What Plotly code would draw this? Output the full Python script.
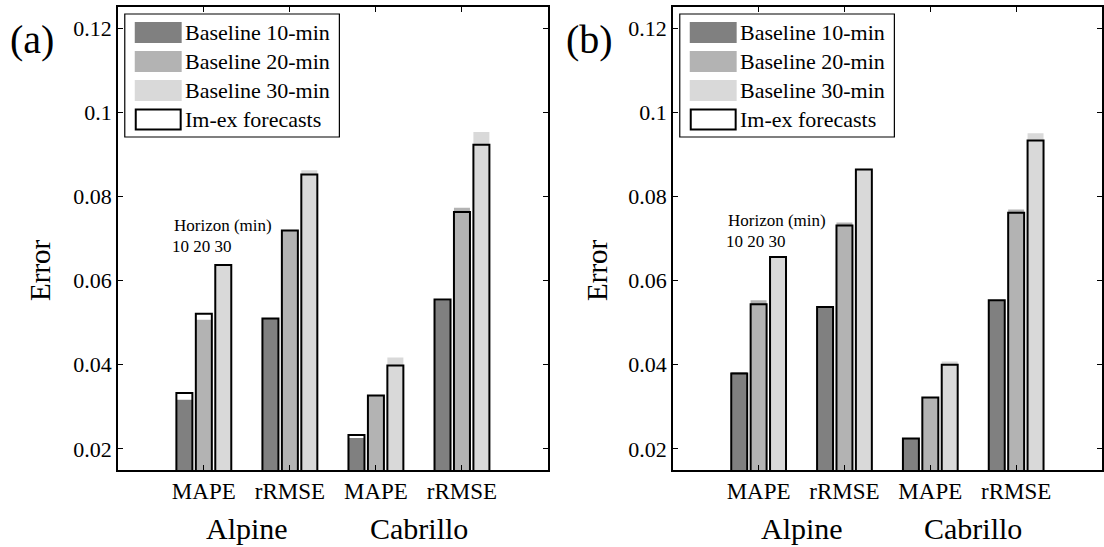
import plotly.graph_objects as go

# ---------------- data ----------------
categories = ["MAPE", "rRMSE", "MAPE", "rRMSE"]
sites = ["Alpine", "Cabrillo"]
horizons = ["10", "20", "30"]
legend_labels = ["Baseline 10-min", "Baseline 20-min", "Baseline 30-min", "Im-ex forecasts"]
y_ticks = [0.02, 0.04, 0.06, 0.08, 0.1, 0.12]
y_tick_text = ["0.02", "0.04", "0.06", "0.08", "0.1", "0.12"]

# panel (a)
baseline_a_10 = [0.0317, 0.0509, 0.0226, 0.0553]
baseline_a_20 = [0.0507, 0.0719, 0.0327, 0.0773]
baseline_a_30 = [0.0635, 0.0862, 0.0417, 0.0953]
imex_a_10 = [0.0333, 0.0510, 0.0233, 0.0555]
imex_a_20 = [0.0521, 0.0719, 0.0327, 0.0763]
imex_a_30 = [0.0637, 0.0852, 0.0398, 0.0923]

# panel (b)
baseline_b_10 = [0.0382, 0.0538, 0.0226, 0.0554]
baseline_b_20 = [0.0553, 0.0738, 0.0323, 0.0769]
baseline_b_30 = [0.0657, 0.0866, 0.0408, 0.0950]
imex_b_10 = [0.0379, 0.0537, 0.0225, 0.0553]
imex_b_20 = [0.0544, 0.0731, 0.0322, 0.0761]
imex_b_30 = [0.0656, 0.0864, 0.0400, 0.0933]

group_pos = [1, 2, 3, 4]
site_pos = [1.5, 3.5]

# ---------------- style ----------------
FONT = "Liberation Serif, Times New Roman, serif"
colors = ["#808080", "#b3b3b3", "#d9d9d9"]
BW = 0.186
PITCH = 0.226
offsets = [-PITCH - BW / 2, -BW / 2, PITCH - BW / 2]

W, H = 1104, 547
panels = [
    dict(xa="x", ya="y", x0=118, w=431, label="(a)", lx=8, ex=40,
         base=[baseline_a_10, baseline_a_20, baseline_a_30],
         imex=[imex_a_10, imex_a_20, imex_a_30], hz=(0.626, 0.0731, 0.0681)),
    dict(xa="x2", ya="y2", x0=674, w=430, label="(b)", lx=565, ex=598,
         base=[baseline_b_10, baseline_b_20, baseline_b_30],
         imex=[imex_b_10, imex_b_20, imex_b_30], hz=(0.615, 0.0743, 0.0693)),
]
top, bottom = 7, 470
ph = bottom - top

fig = go.Figure()
shapes = []
annotations = []

for p in panels:
    for h in range(3):
        fig.add_trace(go.Bar(
            x=group_pos, y=p["base"][h], xaxis=p["xa"], yaxis=p["ya"],
            width=BW, offset=offsets[h],
            marker=dict(color=colors[h], line=dict(width=0)),
            showlegend=False, name="Baseline " + horizons[h] + "-min"))
    for h in range(3):
        fig.add_trace(go.Bar(
            x=group_pos, y=p["imex"][h], xaxis=p["xa"], yaxis=p["ya"],
            width=BW, offset=offsets[h],
            marker=dict(color="rgba(0,0,0,0)", line=dict(color="black", width=2)),
            showlegend=False, name="Im-ex forecasts"))

    xd = p["xa"] + " domain"
    yd = p["ya"] + " domain"
    fx = lambda v, w=p["w"]: v / w
    fy = lambda v: 1 - v / ph
    # legend box
    shapes.append(dict(type="rect", xref=xd, yref=yd, x0=fx(7), x1=fx(222),
                       y0=fy(130), y1=fy(7), line=dict(color="black", width=1.2),
                       fillcolor="white", layer="above"))
    for i, lab in enumerate(legend_labels):
        cy = 25.5 + 29 * i
        if i < 3:
            shapes.append(dict(type="rect", xref=xd, yref=yd, x0=fx(17), x1=fx(64),
                               y0=fy(cy + 10.5), y1=fy(cy - 10.5),
                               line=dict(width=0), fillcolor=colors[i], layer="above"))
        else:
            shapes.append(dict(type="rect", xref=xd, yref=yd, x0=fx(18), x1=fx(63),
                               y0=fy(cy + 10), y1=fy(cy - 10),
                               line=dict(color="black", width=2), fillcolor="white",
                               layer="above"))
        annotations.append(dict(xref=xd, yref=yd, x=fx(65), y=fy(cy), text=lab,
                                showarrow=False, xanchor="left", yanchor="middle",
                                font=dict(family=FONT, size=22, color="black")))
    # site labels
    for sp, s in zip(site_pos, sites):
        annotations.append(dict(xref=p["xa"], yref="paper", x=sp, y=1 - 528 / H, text=s,
                                showarrow=False, xanchor="center", yanchor="middle",
                                font=dict(family=FONT, size=30, color="black")))
    # horizon note
    hx, hy1, hy2 = p["hz"]
    annotations.append(dict(xref=p["xa"], yref=p["ya"], x=hx, y=hy1, text="Horizon (min)",
                            showarrow=False, xanchor="left", yanchor="middle",
                            font=dict(family=FONT, size=17, color="black")))
    annotations.append(dict(xref=p["xa"], yref=p["ya"], x=hx - 0.02, y=hy2,
                            text=" ".join(horizons),
                            showarrow=False, xanchor="left", yanchor="middle",
                            font=dict(family=FONT, size=17, color="black")))
    # panel label and y title
    annotations.append(dict(xref="paper", yref="paper", x=p["lx"] / W, y=1 - 40 / H,
                            text=p["label"], showarrow=False, xanchor="left",
                            yanchor="middle", font=dict(family=FONT, size=40, color="black")))
    annotations.append(dict(xref="paper", yref="paper", x=p["ex"] / W, y=1 - 270 / H,
                            text="Error", textangle=-90, showarrow=False,
                            xanchor="center", yanchor="middle",
                            font=dict(family=FONT, size=29, color="black")))

axis_common = dict(showline=True, linecolor="black", linewidth=1.5, mirror="ticks",
                   ticks="inside", ticklen=5, tickcolor="black", tickwidth=1.2,
                   showgrid=False, zeroline=False,
                   tickfont=dict(family=FONT, size=22, color="black"))

layout_axes = {}
for i, p in enumerate(panels):
    sfx = "" if i == 0 else "2"
    layout_axes["xaxis" + sfx] = dict(
        axis_common, domain=[p["x0"] / W, min(1.0, (p["x0"] + p["w"]) / W)],
        range=[0, 5], tickvals=group_pos, ticktext=categories,
        anchor="y" + sfx, tickfont=dict(family=FONT, size=23, color="black"))
    layout_axes["yaxis" + sfx] = dict(
        axis_common, domain=[1 - bottom / H, 1 - top / H], range=[0.015, 0.125],
        tickvals=y_ticks, ticktext=y_tick_text, anchor="x" + sfx)

fig.update_layout(
    width=W, height=H, autosize=False,
    margin=dict(l=0, r=0, t=0, b=0),
    paper_bgcolor="white", plot_bgcolor="white",
    barmode="overlay", showlegend=False,
    shapes=shapes, annotations=annotations,
    font=dict(family=FONT, color="black"),
    **layout_axes)

fig.write_html("out.html")
